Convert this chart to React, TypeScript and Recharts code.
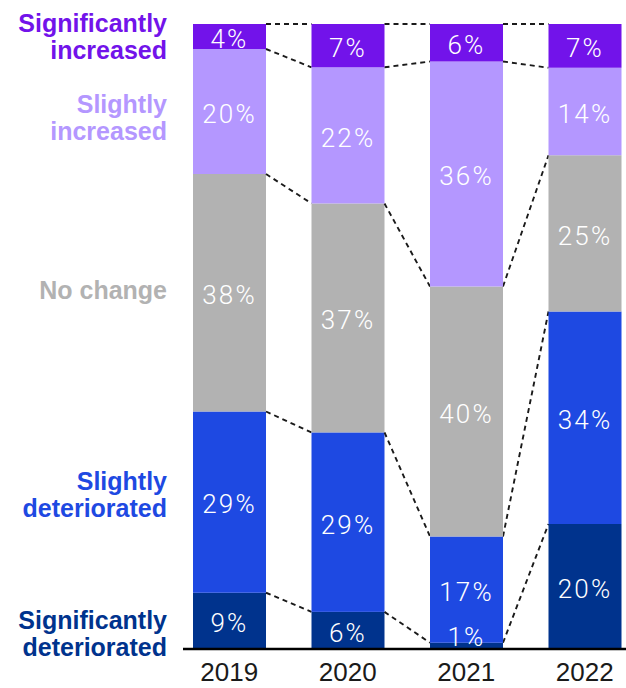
import React from "react";
import { Bar, BarChart, LabelList, XAxis, YAxis } from "recharts";

// Share of respondents per year, bottom segment first
const YEARS = ["2019", "2020", "2021", "2022"];
const SIG_DETERIORATED = [9, 6, 1, 20];
const SLIGHTLY_DETERIORATED = [29, 29, 17, 34];
const NO_CHANGE = [38, 37, 40, 25];
const SLIGHTLY_INCREASED = [20, 22, 36, 14];
const SIG_INCREASED = [4, 7, 6, 7];

const SERIES = [
  { key: "sigDet", lines: ["Significantly", "deteriorated"], color: "#00338D", values: SIG_DETERIORATED },
  { key: "slightDet", lines: ["Slightly", "deteriorated"], color: "#1E49E2", values: SLIGHTLY_DETERIORATED },
  { key: "noChange", lines: ["No change"], color: "#B2B2B2", values: NO_CHANGE },
  { key: "slightInc", lines: ["Slightly", "increased"], color: "#B497FF", values: SLIGHTLY_INCREASED },
  { key: "sigInc", lines: ["Significantly", "increased"], color: "#7213EA", values: SIG_INCREASED },
];

// where each side label sits on the 0..1 stacked scale
const SIDE_LABEL_AT = [0.025, 0.247, 0.574, 0.85, 0.98];

const rows = YEARS.map((year, i) => {
  const row: Record<string, string | number> = { year };
  SERIES.forEach((s) => (row[s.key] = s.values[i]));
  return row;
});

// cumulative top of each segment, normalised to the bar total
const cumTops = YEARS.map((_, i) => {
  const total = SERIES.reduce((sum, s) => sum + s.values[i], 0);
  let run = 0;
  return SERIES.map((s) => {
    run += s.values[i];
    return run / total;
  });
});

const WIDTH = 626;
const HEIGHT = 688;
const PLOT_TOP = 24;
const PLOT_BOTTOM = 649;
const Y_AXIS_W = 183;
const PAD_LEFT = -13;
const PAD_RIGHT = -18;
const BAND = (WIDTH - Y_AXIS_W - PAD_LEFT - PAD_RIGHT) / YEARS.length;

const FONT = "'Liberation Sans', Arial, sans-serif";

const yOf = (frac: number) => PLOT_TOP + (PLOT_BOTTOM - PLOT_TOP) * (1 - frac);

function makeSegment(seriesIndex: number) {
  return (props: any) => {
    const { x, y, width, height, fill, index } = props;
    const next = cumTops[index + 1];
    return (
      <g>
        <rect x={x} y={y} width={width} height={height} fill={fill} />
        {next && (
          <line
            x1={x + width}
            y1={yOf(cumTops[index][seriesIndex])}
            x2={x + BAND}
            y2={yOf(next[seriesIndex])}
            stroke="#1a1a1a"
            strokeWidth={1.9}
            strokeDasharray="5 4"
          />
        )}
      </g>
    );
  };
}

function PercentLabel(props: any) {
  const { x, y, width, height, value } = props;
  const cy = Math.min(y + height / 2 + 2, PLOT_BOTTOM - 12);
  return (
    <text
      x={x + width / 2}
      y={cy}
      dy="0.36em"
      textAnchor="middle"
      fill="#ffffff"
      fontSize={26}
      fontWeight={300}
      letterSpacing={2.2}
      fontFamily="Roboto, 'Liberation Sans', sans-serif"
    >
      {value}%
    </text>
  );
}

function SideLabel(props: any) {
  const { x, y, payload } = props;
  const idx = SIDE_LABEL_AT.findIndex((v) => Math.abs(v - payload.value) < 1e-6);
  if (idx < 0) return null;
  const s = SERIES[idx];
  const n = s.lines.length;
  return (
    <g>
      {s.lines.map((line, i) => (
        <text
          key={line}
          x={x}
          y={y + (i - (n - 1) / 2) * 27}
          dy="0.36em"
          textAnchor="end"
          fill={s.color}
          fontSize={25}
          fontWeight={700}
          fontFamily={FONT}
        >
          {line}
        </text>
      ))}
    </g>
  );
}

export default function App() {
  return (
    <div
      style={{
        position: "absolute",
        left: 0,
        top: 0,
        width: WIDTH,
        height: HEIGHT,
        overflow: "hidden",
        background: "#fff",
      }}
    >
      <BarChart
        width={WIDTH}
        height={HEIGHT}
        data={rows}
        stackOffset="expand"
        barSize={73}
        margin={{ top: PLOT_TOP, right: 0, bottom: 0, left: 0 }}
      >
        <XAxis
          dataKey="year"
          height={HEIGHT - PLOT_BOTTOM}
          padding={{ left: PAD_LEFT, right: PAD_RIGHT }}
          axisLine={{ stroke: "#000", strokeWidth: 2.5 }}
          tickLine={false}
          tickSize={0}
          tickMargin={14}
          tick={{ fill: "#1a1a1a", fontSize: 26, fontFamily: FONT }}
        />
        <YAxis
          type="number"
          domain={[0, 1]}
          ticks={SIDE_LABEL_AT}
          interval={0}
          width={Y_AXIS_W}
          axisLine={false}
          tickLine={false}
          tickSize={0}
          tickMargin={16}
          tick={<SideLabel />}
        />
        {SERIES.map((s, i) => (
          <Bar
            key={s.key}
            dataKey={s.key}
            stackId="share"
            fill={s.color}
            shape={makeSegment(i)}
            isAnimationActive={false}
          >
            <LabelList dataKey={s.key} content={<PercentLabel />} />
          </Bar>
        ))}
      </BarChart>
    </div>
  );
}
